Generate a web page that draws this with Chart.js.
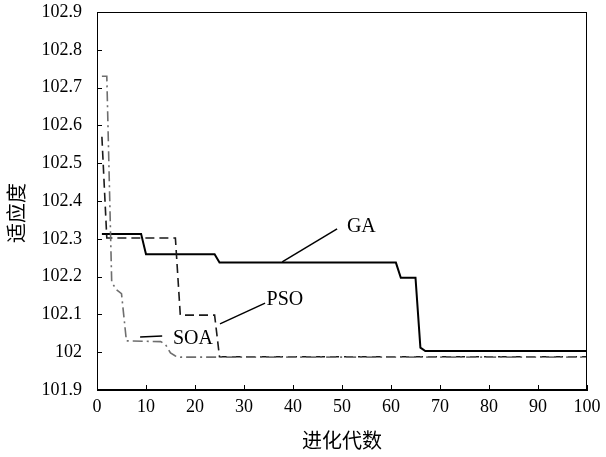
<!DOCTYPE html>
<html>
<head>
<meta charset="utf-8">
<script src="https://cdn.jsdelivr.net/npm/chart.js@4"></script>
<style>
  html, body { margin: 0; padding: 0; background: #fff; }
  #wrap { width: 606px; height: 457px; }
</style>
</head>
<body>
<div id="wrap"><canvas id="c" width="606" height="457"></canvas></div>
<script>
// ---- data (breakpoints of each convergence curve) ----
const gaGen  = [1, 9, 10, 24, 25, 61, 62, 65, 66, 67, 100];
const gaFit  = [102.313, 102.313, 102.259, 102.259, 102.237, 102.237, 102.197, 102.197, 102.012, 102.003, 102.003];

const psoGen = [1, 2, 16, 17, 24, 25, 100];
const psoFit = [102.57, 102.302, 102.302, 102.098, 102.098, 101.988, 101.988];

const soaGen = [1, 2, 3, 4, 5, 6, 13, 14, 15, 16, 17, 100];
const soaFit = [102.73, 102.73, 102.185, 102.165, 102.155, 102.03, 102.028, 102.02, 101.998, 101.99, 101.987, 101.987];

// tick labels
const xTicks = [0, 10, 20, 30, 40, 50, 60, 70, 80, 90, 100];
const yTicks = ['101.9', '102', '102.1', '102.2', '102.3', '102.4', '102.5', '102.6', '102.7', '102.8', '102.9'];
const xTitle = '进化代数';
const yTitle = '适应度';

// annotation labels and leader lines (data coordinates)
const labelNames = ['GA', 'PSO', 'SOA'];
const labelGen   = [51.0, 34.6, 15.5];
const labelFit   = [102.331, 102.138, 102.035];
const gaPtrGen  = [37.8, 49.0];   const gaPtrFit  = [102.239, 102.326];
const psoPtrGen = [25.1, 34.3];   const psoPtrFit = [102.075, 102.130];
const soaPtrGen = [8.8, 13.3];    const soaPtrFit = [102.040, 102.043];

const pts = (xs, ys) => xs.map((x, i) => ({x: x, y: ys[i]}));

const serif = "'Liberation Serif', 'Times New Roman', serif";
const cjk = "'Noto Sans CJK SC', sans-serif";

const framePlugin = {
  id: 'frame',
  afterDatasetsDraw(chart) {
    const {ctx, chartArea: a, scales: {x, y}} = chart;
    ctx.save();
    ctx.strokeStyle = '#000';
    ctx.lineWidth = 1;
    ctx.strokeRect(a.left + 0.5, a.top + 0.5, a.right - a.left - 1, a.bottom - a.top - 1);
    ctx.beginPath();
    xTicks.forEach(v => {
      const px = Math.round(x.getPixelForValue(v)) + 0.5;
      ctx.moveTo(px, a.bottom);
      ctx.lineTo(px, a.bottom - 5);
    });
    yTicks.forEach(t => {
      const py = Math.round(y.getPixelForValue(parseFloat(t))) + 0.5;
      ctx.moveTo(a.left, py);
      ctx.lineTo(a.left + 5, py);
    });
    ctx.stroke();
    // curve labels
    ctx.fillStyle = '#000';
    ctx.font = '20px ' + serif;
    ctx.textAlign = 'left';
    ctx.textBaseline = 'middle';
    labelNames.forEach((n, i) => {
      ctx.fillText(n, x.getPixelForValue(labelGen[i]), y.getPixelForValue(labelFit[i]));
    });
    // y-axis title (rotated), placed slightly below the axis centre as in the original
    ctx.font = '20px ' + cjk;
    ctx.textAlign = 'center';
    ctx.translate(16, (a.top + a.bottom) / 2 + 12);
    ctx.rotate(-Math.PI / 2);
    ctx.fillText(yTitle, 0, 0);
    ctx.restore();
  }
};

const ptrStyle = {borderColor: '#000', borderWidth: 1.5, pointRadius: 0, fill: false};

new Chart(document.getElementById('c'), {
  type: 'line',
  data: {
    datasets: [
      {label: 'SOA', data: pts(soaGen, soaFit), borderColor: '#6e6e6e', borderWidth: 1.6,
       borderDash: [10, 4, 2, 4], pointRadius: 0, tension: 0, fill: false},
      {label: 'PSO', data: pts(psoGen, psoFit), borderColor: '#1a1a1a', borderWidth: 1.6,
       borderDash: [9, 5], pointRadius: 0, tension: 0, fill: false},
      {label: 'GA', data: pts(gaGen, gaFit), borderColor: '#000', borderWidth: 2,
       pointRadius: 0, tension: 0, fill: false},
      Object.assign({label: 'gaPtr', data: pts(gaPtrGen, gaPtrFit)}, ptrStyle),
      Object.assign({label: 'psoPtr', data: pts(psoPtrGen, psoPtrFit)}, ptrStyle),
      Object.assign({label: 'soaPtr', data: pts(soaPtrGen, soaPtrFit)}, ptrStyle)
    ]
  },
  options: {
    responsive: false,
    animation: false,
    devicePixelRatio: 1,
    layout: {padding: {left: 0, right: 19, top: 12, bottom: 0}},
    plugins: {legend: {display: false}, tooltip: {enabled: false}},
    scales: {
      x: {
        type: 'linear', min: 0, max: 100,
        afterBuildTicks: s => { s.ticks = xTicks.map(v => ({value: v})); },
        ticks: {font: {family: serif, size: 18}, color: '#000', padding: 6, maxRotation: 0,
                callback: v => String(v)},
        grid: {drawOnChartArea: false, drawTicks: false},
        border: {display: true, color: '#000', width: 1},
        title: {display: true, text: xTitle, font: {family: cjk, size: 20}, color: '#000',
                padding: {top: 0, bottom: 5}},
        afterFit: s => { s.height = 67; s.paddingLeft = 10; s.paddingRight = 15; }
      },
      y: {
        type: 'linear', min: 101.9, max: 102.9,
        afterBuildTicks: s => { s.ticks = yTicks.map(t => ({value: parseFloat(t)})); },
        ticks: {font: {family: serif, size: 18}, color: '#000', padding: 15,
                callback: (v, i) => yTicks[i]},
        grid: {drawOnChartArea: false, drawTicks: false},
        border: {display: true, color: '#000', width: 1},
        title: {display: false},
        afterFit: s => { s.width = 97; s.paddingTop = 10; s.paddingBottom = 10; }
      }
    }
  },
  plugins: [framePlugin]
});
</script>
</body>
</html>
